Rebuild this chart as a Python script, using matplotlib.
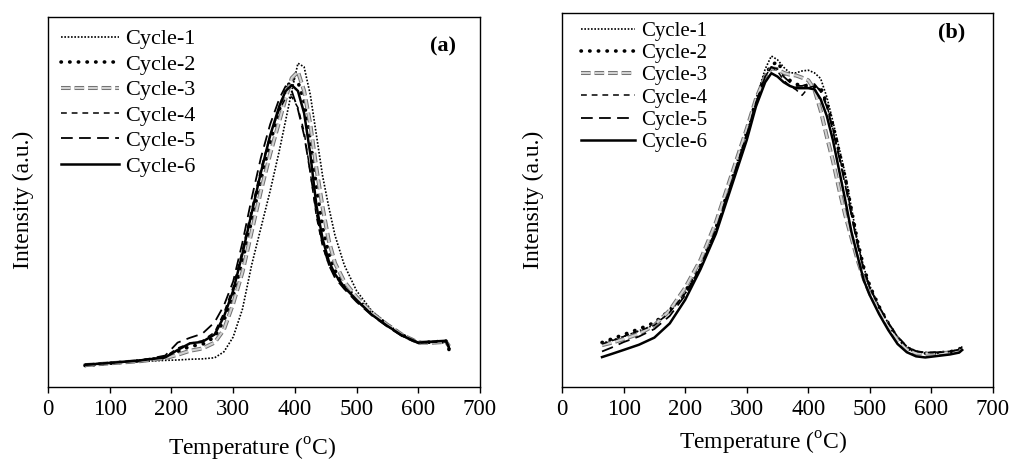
import matplotlib

matplotlib.use("Agg")
import matplotlib.pyplot as plt
import matplotlib.patheffects as pe

# panel (a): temperature grid (oC) and intensities (a.u., 0-100 of axis height)
TEMP_A = [60, 100, 150, 190, 210, 230, 250, 270, 285, 300, 315, 330, 345, 360, 375, 385,
          395, 405, 415, 425, 435, 445, 455, 465, 480, 500, 525, 550, 575, 600, 625, 645, 650]
A_C1 = [6.0, 6.5, 6.9, 7.2, 7.3, 7.5, 7.6, 7.9, 9.5, 13.5, 21, 33, 43, 53, 64, 72,
        80, 87.5, 86.5, 79, 68, 57, 48.6, 41, 33, 26, 20.5, 17, 14, 12, 11.8, 12, 11]
A_C2 = [5.8, 6.4, 7.1, 8.0, 9.5, 11.0, 11.5, 13.5, 18, 24.5, 34, 45, 56, 66, 75, 80,
        83.5, 82.5, 77, 67, 54, 43, 36, 31.5, 27.5, 24, 20, 16.8, 14, 12, 12.2, 12.4, 10]
A_C3 = [5.9, 6.4, 7.0, 7.8, 8.7, 9.8, 10.4, 12.0, 15.5, 22.5, 31, 42, 53, 63, 72, 78,
        83.5, 85.2, 80, 71, 59, 48.5, 39.5, 33.5, 28.5, 24.3, 20, 16.8, 14, 12, 12, 12.2, 11]
A_C4 = [6.1, 6.6, 7.2, 8.2, 10.5, 11.8, 12.5, 14.8, 20, 27, 37, 48, 59, 68, 75, 78,
        78.4, 75.5, 69, 58, 46, 38, 33, 30, 26.8, 23.3, 19.5, 16.4, 13.8, 11.9, 12.1, 12.3, 11]
A_C5 = [6.0, 6.5, 7.2, 8.5, 12, 13.3, 14.4, 17.5, 22, 28.5, 39, 51, 62, 71, 78, 81.3,
        80, 75, 68, 58, 47, 38.5, 33, 29.5, 26.5, 23, 19.3, 16.3, 13.6, 11.8, 12.2, 12.3, 10.8]
A_C6 = [6.0, 6.5, 7.2, 8.0, 10.0, 11.8, 12.2, 14.2, 19, 26, 36, 47, 58, 68, 76, 80,
        81.6, 80, 74, 63, 49, 40, 34, 30.5, 27, 23.5, 19.5, 16.5, 13.8, 12, 12.3, 12.5, 10.5]

# panel (b)
TEMP_B = [65, 80, 100, 125, 150, 175, 200, 225, 250, 275, 300, 315, 330, 340, 350, 360, 370,
          380, 390, 400, 410, 420, 430, 440, 450, 460, 470, 480, 490, 500, 515, 530, 545,
          560, 575, 590, 610, 630, 645, 650]
B_C1 = [11.7, 12.4, 13.5, 15, 16.6, 20, 25, 32, 42, 54.5, 67.8, 77, 85, 88.5, 87.5, 85.5, 84,
        84, 84.5, 84.7, 84, 82.5, 77.6, 71, 64, 57, 48, 39, 32, 27, 21.5, 17, 13,
        10.3, 9.2, 9, 9, 9.3, 9.9, 10.8]
B_C2 = [11.9, 12.8, 14, 15.5, 17.2, 20.5, 25.5, 32.5, 42.5, 55, 68, 76.5, 83.5, 86, 87, 84, 82,
        81, 80.5, 80.5, 80.3, 80, 76, 70, 63, 56, 47.5, 39, 32, 27, 21.5, 17, 13,
        10.5, 9.3, 9, 9.1, 9.4, 10, 11]
B_C3 = [11.2, 11.8, 12.8, 14.2, 16.5, 20.5, 26.5, 34, 44, 56.5, 69, 77, 83, 85.2, 85, 84, 83.5,
        83.3, 82.7, 82, 79.5, 74, 67, 60.5, 53, 46, 40, 34, 29, 25, 20.5, 16.3, 12.5,
        10, 9, 8.9, 9, 9.2, 9.6, 10.5]
B_C4 = [11.5, 12.3, 13.5, 15, 16.5, 20, 25, 32, 42, 54.5, 67.5, 76, 83, 85.6, 84.5, 82, 80.5,
        79.5, 78, 80, 80.5, 79.5, 75.5, 69, 62, 55, 46.5, 38.5, 31.5, 26.5, 21.5, 17, 13.5,
        10.8, 9.5, 9.2, 9.2, 9.5, 10, 10.8]
B_C5 = [9.5, 10.5, 12, 13.5, 15.5, 19, 24.5, 32, 42, 54.5, 67.5, 76, 83, 85.5, 85, 83, 81.5,
        80.5, 80.5, 81, 81, 79, 75, 68.5, 61.5, 54, 46, 38, 31.5, 26.5, 21.5, 17.2, 13.5,
        10.8, 9.6, 9.2, 9.3, 9.5, 10, 11]
B_C6 = [8.0, 8.8, 9.9, 11.3, 13.2, 17.0, 23.3, 31.5, 41, 53.5, 66, 75, 81.5, 83.9, 83, 81.5, 80.5,
        79.9, 79.9, 79.9, 79.6, 77, 72.5, 66, 58, 50, 41.5, 35, 28.6, 24.5, 19.5, 15.2, 11.5,
        9.3, 8.2, 7.9, 8.3, 8.7, 9.2, 9.9]

LABELS = ["Cycle-1", "Cycle-2", "Cycle-3", "Cycle-4", "Cycle-5", "Cycle-6"]
XTICKS = [0, 100, 200, 300, 400, 500, 600, 700]

plt.rcParams.update(
    {
        "font.family": ["Liberation Serif", "DejaVu Serif"],
        "mathtext.fontset": "custom",
        "mathtext.rm": "Liberation Serif",
        "figure.facecolor": "white",
        "axes.facecolor": "white",
        "axes.linewidth": 1.0,
    }
)

STYLES = [
    dict(color="black", lw=1.2, linestyle=(0, (1, 1.0))),
    dict(color="black", lw=2.6, linestyle=(0, (0.1, 2.3)), dash_capstyle="round"),
    dict(color="#d2d2d2", lw=1.5, linestyle=(0, (4.6, 1.9)),
         path_effects=[pe.Stroke(linewidth=2.9, foreground="#707070"), pe.Normal()]),
    dict(color="black", lw=1.1, linestyle=(0, (3.8, 3.2))),
    dict(color="black", lw=1.3, linestyle=(0, (6.5, 3.5))),
    dict(color="black", lw=1.8, linestyle="-"),
]


def draw(ax, temp, series, leg_anchor, leg_spacing, leg_size, tag, tag_xy):
    handles = []
    for ys, st, lab in zip(series, STYLES, LABELS):
        (h,) = ax.plot(temp, ys, label=lab, **st)
        handles.append(h)
    ax.set_xlim(0, 700)
    ax.set_ylim(0, 100)
    ax.set_xticks(XTICKS)
    ax.set_yticks([])
    ax.tick_params(axis="x", direction="out", length=4.5, width=1.0, labelsize=16.5, pad=4)
    ax.legend(handles, LABELS, loc="upper left", bbox_to_anchor=leg_anchor, frameon=False,
              borderaxespad=0, borderpad=0, handlelength=2.6, handletextpad=0.3,
              labelspacing=leg_spacing, fontsize=leg_size)
    ax.text(tag_xy[0], tag_xy[1], tag, transform=ax.transAxes, ha="center", va="center",
            fontsize=16, fontweight="bold")


fig = plt.figure(figsize=(10.13, 4.63), dpi=100)
ax_a = fig.add_axes([48 / 1013, 1 - 387 / 463, 432 / 1013, 370 / 463])
ax_b = fig.add_axes([562 / 1013, 1 - 387 / 463, 431 / 1013, 374 / 463])

draw(ax_a, TEMP_A, [A_C1, A_C2, A_C3, A_C4, A_C5, A_C6], (0.03, 0.968), 0.22, 16, "(a)", (0.914, 0.919))
draw(ax_b, TEMP_B, [B_C1, B_C2, B_C3, B_C4, B_C5, B_C6], (0.044, 0.978), 0.13, 15, "(b)", (0.905, 0.947))

xlab = "Temperature ($^{\\mathrm{o}}$C)"
ax_a.set_xlabel(xlab, fontsize=17)
ax_a.xaxis.set_label_coords(0.472, -0.168)
ax_a.xaxis.label.set_va("center")
ax_b.set_xlabel(xlab, fontsize=17)
ax_b.xaxis.set_label_coords(0.466, -0.152)
ax_b.xaxis.label.set_va("center")

ax_a.set_ylabel("Intensity (a.u.)", fontsize=17)
ax_a.yaxis.set_label_coords(-0.058, 0.505)
ax_a.yaxis.label.set_va("center")
ax_b.set_ylabel("Intensity (a.u.)", fontsize=17)
ax_b.yaxis.set_label_coords(-0.067, 0.50)
ax_b.yaxis.label.set_va("center")

fig.savefig("out.png", dpi=100)
plt.close(fig)
